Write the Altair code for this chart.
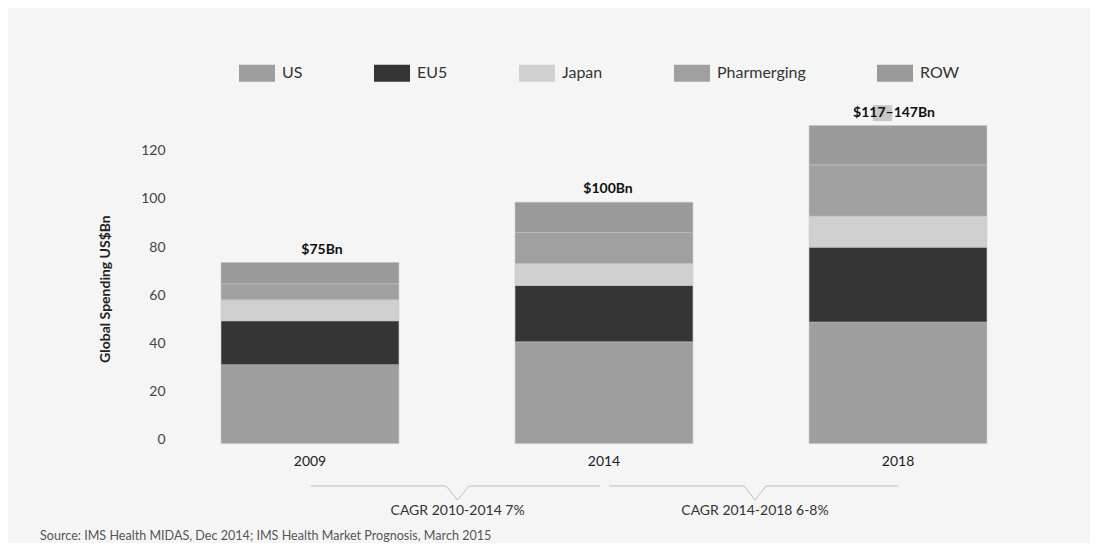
import altair as alt
import pandas as pd

years = ["2009", "2014", "2018"]
regions = ["US", "EU5", "Japan", "Pharmerging", "ROW"]
us = [32.8, 42.3, 50.5]
eu5 = [18.2, 23.4, 31.1]
japan = [8.8, 9.1, 12.9]
pharmerging = [6.6, 12.9, 21.3]
row_vals = [8.8, 12.6, 16.3]
total_labels = ["$75Bn", "$100Bn", "$117\u2013147Bn"]
colors = ["#9e9e9e", "#353535", "#d0d0d0", "#a0a0a0", "#9a9a9a"]
y_ticks = [0, 20, 40, 60, 80, 100, 120]
cagr_labels = ["CAGR 2010-2014 7%", "CAGR 2014-2018 6-8%"]
source_text = "Source: IMS Health MIDAS, Dec 2014; IMS Health Market Prognosis, March 2015"

FONT = "Lato"

series = [us, eu5, japan, pharmerging, row_vals]
rows = []
for i, reg in enumerate(regions):
    for j, yr in enumerate(years):
        rows.append({"year": yr, "region": reg, "value": series[i][j], "ord": i})
df = pd.DataFrame(rows)
tot = pd.DataFrame({
    "year": years,
    "total": [sum(s[j] for s in series) for j in range(len(years))],
    "label": total_labels,
})

xscale = alt.Scale(domain=years, paddingInner=0.395, paddingOuter=0.1566)
yscale = alt.Scale(domain=[0, 140])

bars = alt.Chart(df).mark_bar(stroke="#c2c2c2", strokeWidth=0.5).encode(
    x=alt.X("year:N", scale=xscale, sort=years,
            axis=alt.Axis(title=None, labelAngle=0, domain=False, ticks=False,
                          labelPadding=11, labelFontSize=14, labelColor="#222",
                          labelFont=FONT)),
    y=alt.Y("value:Q", stack="zero", scale=yscale,
            axis=alt.Axis(values=y_ticks, title="Global Spending US$Bn", grid=False,
                          domain=False, ticks=False, labelPadding=10, labelOffset=-4,
                          labelFontSize=14, labelColor="#444", labelFont=FONT,
                          titleX=-70, titleY=182, titleAngle=270, titleAlign="center",
                          titleBaseline="middle", titleFontWeight="bold",
                          titleFontSize=14, titleColor="#222", titleFont=FONT)),
    color=alt.Color("region:N", scale=alt.Scale(domain=regions, range=colors),
                    legend=alt.Legend(title=None, orient="none", legendX=64, legendY=-51.6,
                                      direction="horizontal",
                                      symbolType="M-1,-0.47H1V0.47H-1Z", symbolSize=1296,
                                      symbolStrokeWidth=0, symbolOpacity=1,
                                      labelFontSize=16, labelColor="#333", labelFont=FONT,
                                      labelOffset=7, columnPadding=71, padding=0)),
    order=alt.Order("ord:Q", sort="ascending"),
)

labels = alt.Chart(tot).mark_text(fontWeight="bold", fontSize=14, dx=4, dy=-13,
                                  color="#111", baseline="middle", font=FONT).encode(
    x=alt.X("year:N", scale=xscale, sort=years, axis=None),
    y=alt.Y("total:Q", scale=yscale, axis=None),
    text="label:N",
)

# decorative annotation layers (pixel positions relative to plot area)
hl = pd.DataFrame({"x1": [697.7], "x2": [717.3], "y1": [-1.5], "y2": [14.5]})
hl_rect = alt.Chart(hl).mark_rect(color="#c8c8c8").encode(
    x=alt.X("x1:Q", scale=None, axis=None), x2="x2:Q",
    y=alt.Y("y1:Q", scale=None, axis=None), y2="y2:Q",
)

bracket_x = [[136, 271, 282.6, 294, 425], [434, 569, 580, 591, 723]]
bracket_y = [379.4, 379.4, 393.4, 379.4, 379.4]
brows = []
for b, xs in enumerate(bracket_x):
    for k, xv in enumerate(xs):
        brows.append({"bid": b, "k": k, "px": xv, "py": bracket_y[k]})
bdf = pd.DataFrame(brows)
brackets = alt.Chart(bdf).mark_line(color="#bdbdbd", strokeWidth=1).encode(
    x=alt.X("px:Q", scale=None, axis=None),
    y=alt.Y("py:Q", scale=None, axis=None),
    detail="bid:N",
    order="k:Q",
)

cdf = pd.DataFrame({"label": cagr_labels, "px": [282.6, 580], "py": [404.4, 404.4]})
cagr = alt.Chart(cdf).mark_text(fontSize=14, color="#333", font=FONT, baseline="middle").encode(
    x=alt.X("px:Q", scale=None, axis=None),
    y=alt.Y("py:Q", scale=None, axis=None),
    text="label:N",
)

sdf = pd.DataFrame({"label": [source_text], "px": [-135], "py": [429.4]})
source = alt.Chart(sdf).mark_text(fontSize=12.6, color="#555", font=FONT, align="left",
                                  baseline="middle").encode(
    x=alt.X("px:Q", scale=None, axis=None),
    y=alt.Y("py:Q", scale=None, axis=None),
    text="label:N",
)

chart = alt.layer(bars, hl_rect, labels, brackets, cagr, source).resolve_scale(
    x="independent", y="independent"
).properties(
    width=858, height=337,
    autosize=alt.AutoSizeParams(type="none"),
    padding={"left": 167, "top": 98.6, "right": 57, "bottom": 99},
    background="#f5f5f5",
).configure(font=FONT).configure_view(stroke=None, strokeWidth=0)

chart.save("out.html", embed_options={"renderer": "svg", "actions": False})
